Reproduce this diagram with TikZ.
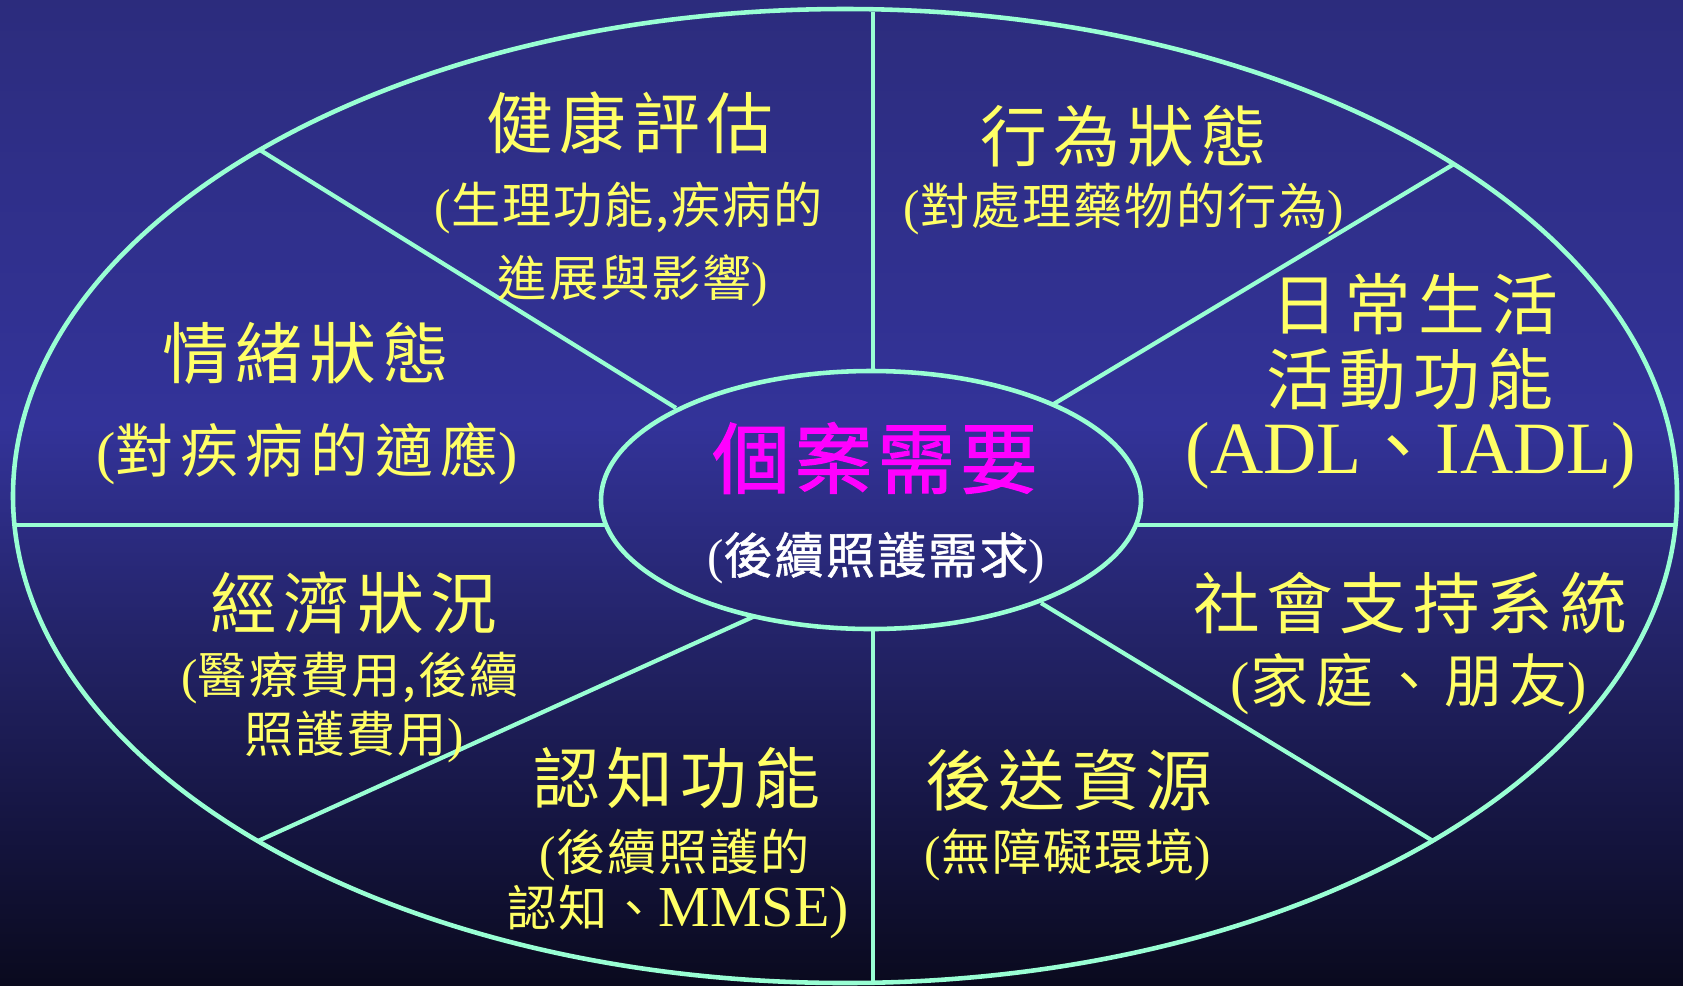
\documentclass[tikz,border=0pt]{standalone}
\usepackage{fontspec}
\setmainfont{Liberation Serif}
\newfontfamily\cjk{Noto Sans CJK TC}
\newfontfamily\cjkT[LetterSpace=10]{Noto Sans CJK TC}
\newfontfamily\cjkS[LetterSpace=4]{Noto Sans CJK TC}
\newfontfamily\cjkBS[LetterSpace=12]{Noto Sans CJK TC}
\newfontfamily\cjkC[LetterSpace=7,FakeBold=1.6]{Noto Sans CJK TC}
\newfontfamily\cjkW[LetterSpace=4,FakeBold=1.0]{Noto Sans CJK TC}
\newcommand\Lpar{{\rmfamily(}}
\newcommand\Rpar{{\rmfamily)}}
\definecolor{bgA}{RGB}{10,10,30}
\definecolor{bgB}{RGB}{20,20,62}
\definecolor{bgC}{RGB}{35,35,103}
\definecolor{bgD}{RGB}{51,51,153}
\definecolor{bgE}{RGB}{44,44,125}
\definecolor{yel}{RGB}{255,255,102}
\definecolor{mag}{RGB}{255,0,255}
\definecolor{lin}{RGB}{153,255,212}
\pgfdeclareverticalshading{bgsh}{100bp}{color(0bp)=(bgA); color(25bp)=(bgA); color(32.5bp)=(bgB); color(42.5bp)=(bgC); color(53.5bp)=(bgD); color(75bp)=(bgE); color(100bp)=(bgE)}
\tikzset{
  ttl/.style={text=yel, inner sep=0pt, font=\cjkT\fontsize{38}{42}\selectfont},
  sub/.style={text=yel, inner sep=0pt, font=\cjkS\fontsize{28}{32}\selectfont},
  bigsub/.style={text=yel, inner sep=0pt, font=\cjkBS\fontsize{33}{36}\selectfont},
  adl/.style={text=yel, inner sep=0pt, font=\rmfamily\fontsize{42}{46}\selectfont},
  ctr/.style={text=mag, inner sep=0pt, font=\cjkC\fontsize{44}{48}\selectfont},
  ctrsub/.style={text=white, inner sep=0pt, font=\cjkW\fontsize{28}{32}\selectfont},
  ring/.style={draw=lin, line width=2.6pt},
  spoke/.style={draw=lin, line width=2.4pt},
}
\begin{document}
\begin{tikzpicture}[x=0.02cm, y=-0.02cm]
\useasboundingbox (0,0) rectangle (1683,985);
\shade[shading=bgsh] (0,0) rectangle (1683,985);
% spokes
\coordinate (vt) at (873,12);
\coordinate (vi1) at (873,371);
\coordinate (vi2) at (873,629);
\coordinate (vb) at (873,983);
\coordinate (hl) at (14,525);
\coordinate (hli) at (606,525);
\coordinate (hri) at (1136,525);
\coordinate (hr) at (1676,525);
\coordinate (ulo) at (260,150);
\coordinate (uli) at (676,408);
\coordinate (uro) at (1454,164);
\coordinate (uri) at (1052,405);
\coordinate (llo) at (258,841);
\coordinate (lli) at (755,616);
\coordinate (lro) at (1433,841);
\coordinate (lri) at (1041,603);
\draw[spoke] (vt) -- (vi1);
\draw[spoke] (vi2) -- (vb);
\draw[spoke] (hl) -- (hli);
\draw[spoke] (hri) -- (hr);
\draw[spoke] (ulo) -- (uli);
\draw[spoke] (uro) -- (uri);
\draw[spoke] (llo) -- (lli);
\draw[spoke] (lro) -- (lri);
% rings
\draw[ring] (845,496) ellipse [x radius=832, y radius=487];
\draw[ring] (871,500) ellipse [x radius=270, y radius=129];
% texts
\node[ttl] (t1) at (630,123) {健康評估};
\node[sub] (t1a) at (629,208) {\Lpar 生理功能,疾病的};
\node[sub] (t1b) at (633,281) {進展與影響\Rpar};
\node[ttl] (t2) at (1124,136) {行為狀態};
\node[sub] (t2a) at (1124,209) {\Lpar 對處理藥物的行為\Rpar};
\node[ttl] (t3) at (1415,304) {日常生活};
\node[ttl] (t3a) at (1410,379) {活動功能};
\node[adl] (t3b) at (1411,456) {(ADL{\cjk 、}IADL)};
\node[ttl] (t4) at (306,353) {情緒狀態};
\node[bigsub] (t4a) at (307,454) {\Lpar 對疾病的適應\Rpar};
\node[ctr] (c1) at (875,458) {個案需要};
\node[ctrsub] (c2) at (876,558) {\Lpar 後續照護需求\Rpar};
\node[ttl] (t5) at (354,603) {經濟狀況};
\node[sub] (t5a) at (350,678) {\Lpar 醫療費用,後續};
\node[sub] (t5b) at (354,737) {照護費用\Rpar};
\node[ttl] (t6) at (677,778) {認知功能};
\node[sub] (t6a) at (675,855) {\Lpar 後續照護的};
\node[sub] (t6b) at (678,912) {認知、{\rmfamily\fontsize{33}{36}\selectfont MMSE)}};
\node[ttl] (t7) at (1410,603) {社會支持系統};
\node[bigsub] (t7a) at (1409,684) {\Lpar 家庭、朋友\Rpar};
\node[ttl] (t8) at (1069,780) {後送資源};
\node[sub] (t8a) at (1068,855) {\Lpar 無障礙環境\Rpar};
\end{tikzpicture}
\end{document}
